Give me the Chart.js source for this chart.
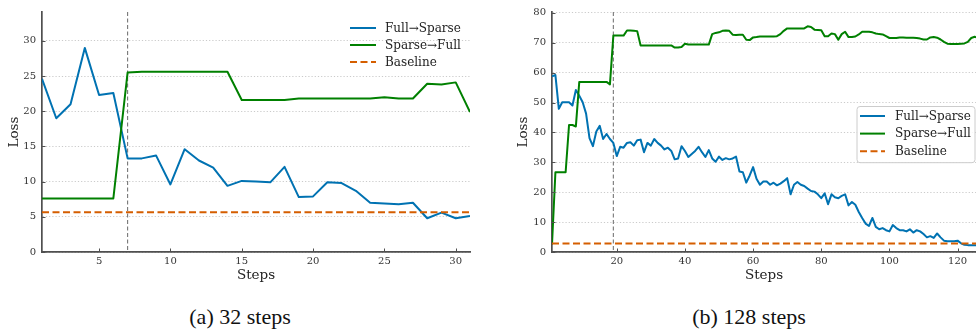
<!DOCTYPE html>
<html>
<head>
<meta charset="utf-8">
<script src="https://cdn.jsdelivr.net/npm/chart.js@4/dist/chart.umd.min.js"></script>
<style>
  html, body { margin:0; padding:0; background:#fff; width:976px; height:331px; overflow:hidden; }
  .box { position:absolute; top:0; height:290px; }
  .cap { position:absolute; top:304px; font-family:"Liberation Serif","Times New Roman",serif; font-size:22px; color:#111; transform:translateX(-50%); white-space:nowrap; }
</style>
</head>
<body>
<div class="box" style="left:0;width:480px"><canvas id="c1" width="480" height="290"></canvas></div>
<div class="box" style="left:500px;width:476px"><canvas id="c2" width="476" height="290"></canvas></div>
<div class="cap" style="left:240px">(a) 32 steps</div>
<div class="cap" style="left:749px">(b) 128 steps</div>
<script>
// ---------------- DATA ----------------
const seriesNames = ["Full\u2192Sparse", "Sparse\u2192Full", "Baseline"];

// (a) 32 steps
const stepsA = [1,2,3,4,5,6,7,8,9,10,11,12,13,14,15,16,17,18,19,20,21,22,23,24,25,26,27,28,29,30,31];
const fullToSparseA = [24.6,19.0,21.0,29.0,22.3,22.6,13.3,13.3,13.7,9.6,14.6,13.0,12.0,9.4,10.1,10.0,9.9,12.1,7.8,7.9,9.9,9.8,8.7,7.0,6.9,6.8,7.0,4.8,5.6,4.8,5.1];
const sparseToFullA = [7.6,7.6,7.6,7.6,7.6,7.6,25.5,25.6,25.6,25.6,25.6,25.6,25.6,25.6,21.6,21.6,21.6,21.6,21.8,21.8,21.8,21.8,21.8,21.8,22.0,21.8,21.8,23.9,23.8,24.1,19.9];
const baselineA = 5.65;
const switchStepA = 7;
const xTicksA = [5,10,15,20,25,30];
const yTicksA = [0,5,10,15,20,25,30];

// (b) 128 steps
const stepsB = [1,2,3,4,5,6,7,8,9,10,11,12,13,14,15,16,17,18,19,20,21,22,23,24,25,26,27,28,29,30,
  31,32,33,34,35,36,37,38,39,40,41,42,43,44,45,46,47,48,49,50,51,52,53,54,55,56,57,58,59,60,
  61,62,63,64,65,66,67,68,69,70,71,72,73,74,75,76,77,78,79,80,81,82,83,84,85,86,87,88,89,90,
  91,92,93,94,95,96,97,98,99,100,101,102,103,104,105,106,107,108,109,110,111,112,113,114,115,116,117,118,119,120,
  121,122,123,124,125,126];
const fullToSparseB = [58.8,59.2,47.9,50.1,50.1,50.1,49.0,54.2,52.3,50.1,46.3,38.1,35.4,40.3,42.2,37.8,39.5,37.8,36.5,32.1,
  35.2,34.9,36.5,36.7,35.6,37.4,37.6,33.4,36.5,35.6,37.8,36.5,35.6,34.3,34.9,33.8,31.0,31.3,35.4,33.8,
  31.8,32.8,33.8,35.2,33.4,31.8,34.1,31.3,30.2,31.9,30.8,31.4,31.0,31.3,31.9,26.9,26.7,23.2,25.6,28.4,
  24.5,22.5,23.6,23.6,22.5,23.2,22.3,22.9,23.7,24.7,19.3,22.5,23.4,22.5,22.1,21.2,20.4,20.2,19.3,18.0,
  19.6,16.0,19.3,18.3,18.0,18.8,19.3,15.6,16.7,15.8,13.4,11.4,9.5,8.7,11.4,8.4,7.6,8.0,7.3,6.9,
  9.0,8.0,7.3,7.3,6.9,7.6,6.5,7.3,6.9,6.0,4.9,5.3,4.7,6.2,4.9,3.8,3.6,3.6,3.6,3.8,
  2.9,2.4,2.3,2.3,2.3,2.2];
const sparseToFullB = [2.5,26.7,26.7,26.7,26.7,42.5,42.5,42.0,56.9,56.9,56.9,56.9,56.9,56.9,56.9,56.9,56.9,56.1,72.4,72.4,
  72.4,72.4,74.1,74.1,74.0,73.9,69.1,69.1,69.1,69.1,69.1,69.1,69.1,69.1,69.1,69.1,68.4,68.4,68.6,69.7,
  69.4,69.4,69.4,69.4,69.4,69.4,69.4,72.9,73.3,73.5,74.0,74.1,74.0,72.7,72.6,72.7,72.7,71.0,70.9,71.8,
  71.9,72.1,72.1,72.1,72.1,72.1,72.2,72.9,74.0,74.8,74.8,74.8,74.8,74.8,74.8,75.5,75.3,74.4,74.3,74.2,
  72.2,72.2,73.1,72.9,71.0,72.9,73.7,71.9,71.9,72.1,72.8,73.7,73.7,73.7,73.5,73.1,72.9,72.8,72.2,71.6,
  71.6,71.6,71.8,71.8,71.7,71.7,71.7,71.6,71.4,71.1,71.1,71.8,71.9,71.7,71.1,70.3,69.7,69.6,69.6,69.6,
  69.7,69.8,70.3,71.6,72.0,71.6];
const baselineB = 2.85;
const switchStepB = 19;
const xTicksB = [20,40,60,80,100,120];
const yTicksB = [0,10,20,30,40,50,60,70,80];

// ---------------- STYLE ----------------
const BLUE = "#0072B2", GREEN = "#008000", ORANGE = "#D55E00";
const SPINE = "#505050";
const TICKFONT = { family: "'DejaVu Serif', serif", size: 10 };
const TITLEFONT = { family: "'DejaVu Serif', serif", size: 13.5 };

const vlinePlugin = {
  id: "vline",
  beforeDatasetsDraw(chart, args, o) {
    const xs = chart.scales.x, ca = chart.chartArea, ctx = chart.ctx;
    const px = xs.getPixelForValue(o.value);
    ctx.save();
    ctx.strokeStyle = "#777"; ctx.lineWidth = 1.1; ctx.setLineDash([4, 2.5]);
    ctx.beginPath(); ctx.moveTo(px, ca.top); ctx.lineTo(px, ca.bottom); ctx.stroke();
    ctx.restore();
  }
};

const inTicksPlugin = {
  id: "inTicks",
  afterDraw(chart) {
    const ctx = chart.ctx, ca = chart.chartArea;
    ctx.save();
    ctx.strokeStyle = SPINE; ctx.lineWidth = 1;
    chart.scales.x.ticks.forEach(t => {
      const px = Math.round(chart.scales.x.getPixelForValue(t.value)) + 0.5;
      ctx.beginPath(); ctx.moveTo(px, ca.bottom); ctx.lineTo(px, ca.bottom - 3.5); ctx.stroke();
    });
    chart.scales.y.ticks.forEach(t => {
      const py = Math.round(chart.scales.y.getPixelForValue(t.value)) + 0.5;
      ctx.beginPath(); ctx.moveTo(ca.left, py); ctx.lineTo(ca.left + 3.5, py); ctx.stroke();
    });
    ctx.restore();
  }
};

const legendPlugin = {
  id: "insideLegend",
  afterDraw(chart, args, o) {
    const ctx = chart.ctx, ca = chart.chartArea;
    const x0 = ca.right + o.dx, y0 = ca.top + o.dy;
    const n = chart.data.datasets.length;
    ctx.save();
    if (o.box) {
      const bx = x0 - 3.5, by = y0 - 10, bw = o.boxW, bh = (n - 1) * o.rowH + 21;
      ctx.beginPath();
      ctx.roundRect(bx + 0.5, by + 0.5, bw, bh, 3);
      ctx.fillStyle = "rgba(255,255,255,0.85)"; ctx.fill();
      ctx.strokeStyle = "#cccccc"; ctx.lineWidth = 1; ctx.stroke();
    }
    ctx.font = "12px 'DejaVu Serif', serif";
    ctx.textBaseline = "middle";
    ctx.fillStyle = "#222";
    chart.data.datasets.forEach((ds, i) => {
      const y = y0 + i * o.rowH;
      ctx.strokeStyle = ds.borderColor; ctx.lineWidth = ds.borderWidth;
      ctx.setLineDash(ds.borderDash || []);
      ctx.beginPath(); ctx.moveTo(x0, y); ctx.lineTo(x0 + o.lineLen, y); ctx.stroke();
      ctx.setLineDash([]);
      ctx.fillText(ds.label, x0 + o.lineLen + o.gap, y + 0.5);
    });
    ctx.restore();
  }
};

function pts(xs, ys) { return xs.map((x, i) => ({ x: x, y: ys[i] })); }

function makeChart(id, cfg) {
  const datasets = [
    { label: seriesNames[0], data: pts(cfg.steps, cfg.fs), borderColor: BLUE, borderWidth: 2, order: 3 },
    { label: seriesNames[1], data: pts(cfg.steps, cfg.sf), borderColor: GREEN, borderWidth: 2, order: 2 },
    { label: seriesNames[2], data: [{ x: cfg.steps[0], y: cfg.base }, { x: cfg.steps[cfg.steps.length - 1], y: cfg.base }],
      borderColor: ORANGE, borderWidth: 2, borderDash: [7, 3.5], order: 1 }
  ];
  return new Chart(document.getElementById(id), {
    type: "line",
    data: { datasets },
    plugins: [vlinePlugin, inTicksPlugin, legendPlugin],
    options: {
      responsive: false, animation: false, devicePixelRatio: 1,
      elements: { point: { radius: 0 }, line: { tension: 0, borderCapStyle: "butt", borderJoinStyle: "round" } },
      layout: { padding: cfg.padding },
      plugins: {
        legend: { display: false }, tooltip: { enabled: false },
        vline: { value: cfg.vline },
        insideLegend: cfg.legend
      },
      scales: {
        x: {
          type: "linear", min: cfg.xmin, max: cfg.xmax,
          afterBuildTicks: s => { s.ticks = cfg.xTicks.map(v => ({ value: v })); },
          afterFit: s => { s.height = 38; },
          grid: { display: false, drawTicks: false },
          border: { display: true, color: SPINE, width: 1.7 },
          ticks: { font: TICKFONT, color: "#333", padding: 3, maxRotation: 0, autoSkip: false },
          title: { display: true, text: "Steps", font: TITLEFONT, color: "#222", padding: { top: 0, bottom: 6 } }
        },
        y: {
          type: "linear", min: 0, max: cfg.ymax,
          afterBuildTicks: s => { s.ticks = cfg.yTicks.map(v => ({ value: v })); },
          afterFit: s => { s.width = cfg.yWidth; },
          grid: { display: true, drawTicks: false, color: "#c4c4c4", lineWidth: 0.9 },
          border: { display: true, color: SPINE, width: 1.7, dash: [1.2, 2] },
          ticks: { font: TICKFONT, color: "#333", padding: 6 },
          title: { display: true, text: "Loss", font: TITLEFONT, color: "#222", padding: { top: cfg.yTitlePad, bottom: 0 } }
        }
      }
    }
  });
}

makeChart("c1", {
  steps: stepsA, fs: fullToSparseA, sf: sparseToFullA, base: baselineA, vline: switchStepA,
  xTicks: xTicksA, yTicks: yTicksA, xmin: 1, xmax: 31, ymax: 34.1,
  padding: { top: 3, right: 10, left: 0, bottom: 0 }, yWidth: 42, yTitlePad: 6,
  legend: { dx: -120, dy: 16, rowH: 17, lineLen: 26, gap: 9, box: false }
});
makeChart("c2", {
  steps: stepsB, fs: fullToSparseB, sf: sparseToFullB, base: baselineB, vline: switchStepB,
  xTicks: xTicksB, yTicks: yTicksB, xmin: 1, xmax: 125.4, ymax: 80.3,
  padding: { top: 6, right: 0, left: 0, bottom: 0 }, yWidth: 52, yTitlePad: 15,
  legend: { dx: -116, dy: 104, rowH: 17.6, lineLen: 25, gap: 10, box: true, boxW: 118 }
});
</script>
</body>
</html>
